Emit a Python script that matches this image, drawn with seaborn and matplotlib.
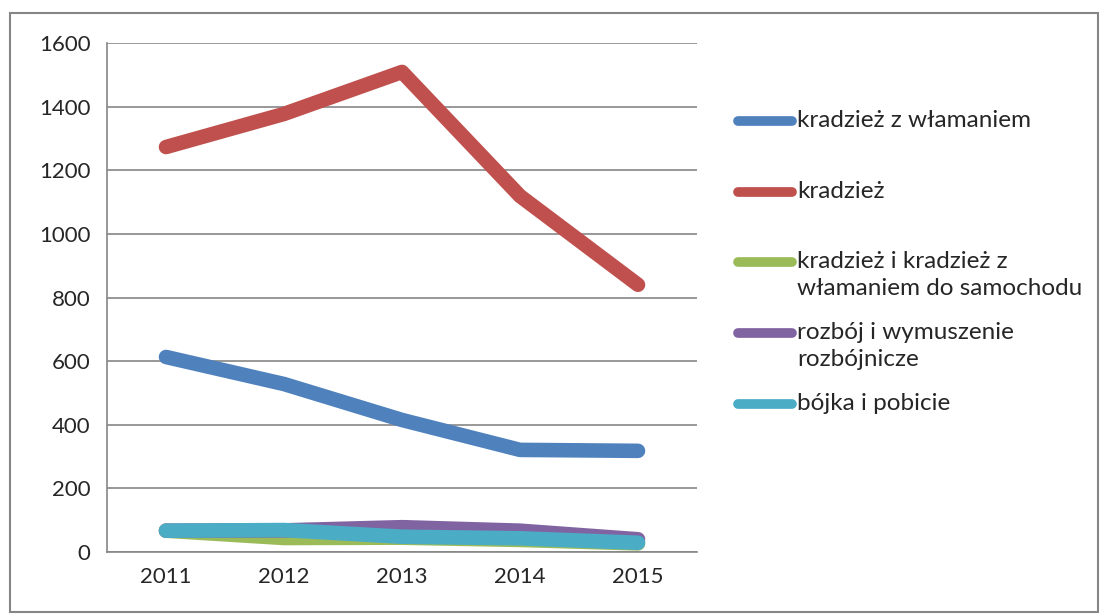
import numpy as np
import matplotlib
matplotlib.use("Agg")
import matplotlib.pyplot as plt
import pandas as pd
import seaborn as sns
from matplotlib.lines import Line2D
from matplotlib.patches import Rectangle

#%% Data

years = ["2011", "2012", "2013", "2014", "2015"]

series_names = ["kradzież z włamaniem",
                "kradzież",
                "kradzież i kradzież z\nwłamaniem do samochodu",
                "rozbój i wymuszenie\nrozbójnicze",
                "bójka i pobicie"]

wlamanie = [613, 528, 415, 321, 318]
kradziez = [1273, 1377, 1509, 1119, 840]
samochod = [67, 44, 45, 38, 27]
rozboj = [67, 68, 78, 67, 40]
bojka = [67, 69, 48, 43, 29]

colors = ["#4F81BD", "#C0504D", "#9BBB59", "#8064A2", "#4BACC6"]

rows = []
for name, vals in zip(series_names, [wlamanie, kradziez, samochod, rozboj, bojka]):
    for i, v in enumerate(vals):
        rows.append({"pos": i, "value": v, "series": name})
df = pd.DataFrame(rows)

#%% Plot

sns.set_style("white")
plt.rcParams["font.family"] = ["Lato", "DejaVu Sans"]

fig = plt.figure(figsize=(11.01, 6.14), dpi=100)
ax = fig.add_axes([107 / 1101, 62 / 614, 590 / 1101, 509 / 614])

sns.lineplot(data=df, x="pos", y="value", hue="series", palette=colors,
             hue_order=series_names, linewidth=10.5, legend=False, ax=ax,
             solid_capstyle="round", solid_joinstyle="round")

grid_c = "#868686"
ax.set_ylim(0, 1600)
ax.set_yticks(np.arange(0, 1601, 200))
ax.set_xlim(-0.5, 4.5)
ax.set_xticks(np.arange(-0.5, 4.6, 1))
ax.set_xticklabels([])
ax.set_xticks(range(len(years)), minor=True)
ax.set_xticklabels(years, minor=True)
ax.tick_params(axis="x", which="minor", length=0, labelsize=16, pad=11)
ax.tick_params(axis="x", which="major", length=6, color=grid_c, width=1.2)
ax.tick_params(axis="y", length=6, color=grid_c, width=1.2, labelsize=16, pad=6)
ax.yaxis.grid(True, color=grid_c, linewidth=1.2)
ax.set_axisbelow(True)
ax.set_xlabel("")
ax.set_ylabel("")
for s in ["top", "right"]:
    ax.spines[s].set_visible(False)
for s in ["left", "bottom"]:
    ax.spines[s].set_color(grid_c)
    ax.spines[s].set_linewidth(1.2)

# legend drawn by hand so the handle sits on the first text line
W, H = 1101, 614
for k, (name, c) in enumerate(zip(series_names, colors)):
    y = 1 - (121 + 70.7 * k) / H
    fig.add_artist(Line2D([738 / W, 792 / W], [y, y], color=c, linewidth=7,
                          solid_capstyle="round", transform=fig.transFigure))
    fig.text(797 / W, y + 11 / H, name, fontsize=17.5, va="top", ha="left",
             linespacing=1.35, transform=fig.transFigure)

fig.add_artist(Rectangle((10 / W, 2 / H), 1088 / W, 599 / H, fill=False,
                         edgecolor=grid_c, linewidth=1.5,
                         transform=fig.transFigure))

plt.savefig("out.png", dpi=100)
